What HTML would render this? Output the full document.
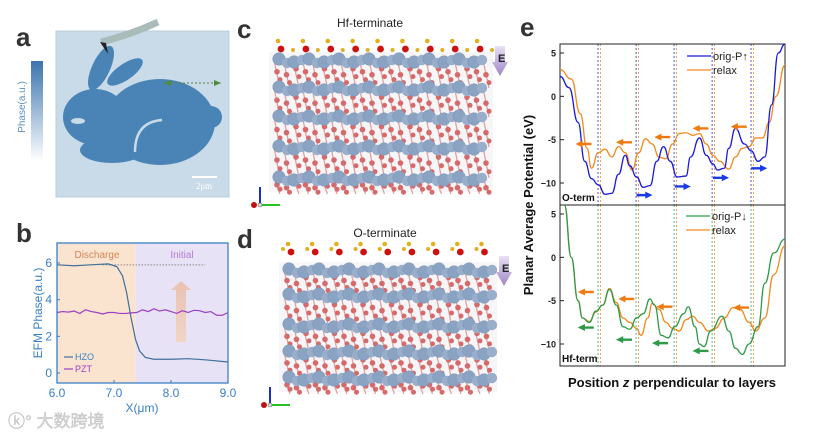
<!DOCTYPE html>
<html><head><meta charset="utf-8"><style>
html,body{margin:0;padding:0;background:#fff;}
svg{display:block;font-family:"Liberation Sans","Noto Sans CJK SC",sans-serif;}
</style></head><body>
<svg id="fig" width="819" height="434" viewBox="0 0 819 434">
<defs>
<linearGradient id="cb" x1="0" y1="0" x2="0" y2="1"><stop offset="0" stop-color="#3b74ad"/><stop offset="1" stop-color="#ffffff"/></linearGradient>
<linearGradient id="arr" x1="0" y1="1" x2="0" y2="0"><stop offset="0" stop-color="#f3d2bd"/><stop offset="1" stop-color="#e9b9a0"/></linearGradient>
<linearGradient id="ev" x1="0" y1="0" x2="0" y2="1"><stop offset="0" stop-color="#e8e0f4"/><stop offset="1" stop-color="#9f86c8"/></linearGradient>
</defs>
<text x="16" y="46" font-size="26" font-weight="bold" fill="#333">a</text>
<text x="16" y="242" font-size="26" font-weight="bold" fill="#333">b</text>
<text x="237" y="38" font-size="26" font-weight="bold" fill="#333">c</text>
<text x="237" y="248" font-size="26" font-weight="bold" fill="#333">d</text>
<text x="520" y="36" font-size="26" font-weight="bold" fill="#333">e</text>

<g>
<rect x="31" y="61" width="12" height="100" fill="url(#cb)"/>
<text transform="translate(25,107) rotate(-90)" text-anchor="middle" font-size="10" fill="#5b8fc0">Phase(a.u.)</text>
<rect x="56" y="31" width="173" height="166" fill="#c9dbe8" stroke="#b8ccdc"/>
<g fill="#4a84b6">
<ellipse cx="101" cy="68" rx="9" ry="24" transform="rotate(25 101 68)"/>
<ellipse cx="125" cy="72" rx="8" ry="21" transform="rotate(55 125 72)"/>
<ellipse cx="95" cy="117" rx="32" ry="28"/>
<ellipse cx="160" cy="122" rx="55" ry="43"/>
<circle cx="211" cy="117" r="11"/>
<ellipse cx="112" cy="150" rx="32" ry="13"/>
</g>
<ellipse cx="78" cy="121" rx="7" ry="3" fill="#c9dbe8"/>
<path d="M135 152 Q135 122 162 120" stroke="#c9dbe8" stroke-width="2.5" fill="none"/>
<path d="M163 83 L223 83" stroke="#4f8a3a" stroke-dasharray="2,2" stroke-width="1"/>
<polygon points="164,83 171,80 171,86" fill="#4f8a3a"/><polygon points="221,83 214,80 214,86" fill="#4f8a3a"/>
<path d="M101 42 Q130 35 158 22" stroke="#a9bcb9" stroke-width="7" fill="none"/>
<polygon points="100,42 106,43 108,54" fill="#222"/>
<line x1="192" y1="177" x2="217" y2="177" stroke="#fff" stroke-width="2"/>
<text x="204" y="189" text-anchor="middle" font-size="9" fill="#fff" font-family="Liberation Serif,serif">2μm</text>
</g>

<g id="pb"></g>

<text x="370" y="27" text-anchor="middle" font-size="12" fill="#222">Hf-terminate</text>
<text x="385" y="237" text-anchor="middle" font-size="12" fill="#222">O-terminate</text>
<g id="pc"></g>
<g id="pd"></g>

<g id="pe"></g>

<text x="8" y="427" font-size="17" fill="#d8d8d8" stroke="#bbb" stroke-width="0.4">ⓚ° 大数跨境</text>
</svg>
<script>
const NS="http://www.w3.org/2000/svg";
function mk(p,t,a){const e=document.createElementNS(NS,t);for(const k in a)e.setAttribute(k,a[k]);p.appendChild(e);return e;}

const bXTicks=[6.0,7.0,8.0,9.0];
const bYTicks=[0,2,4,6];
const hzoX=[6.0,6.3,6.6,6.9,7.05,7.15,7.22,7.3,7.38,7.45,7.55,7.7,8.0,8.3,8.6,9.0];
const hzoY=[5.9,5.85,5.9,5.95,5.8,5.3,4.4,3.0,1.8,1.2,0.85,0.75,0.75,0.78,0.72,0.6];
const pztX=[6.0,6.1,6.2,6.3,6.4,6.5,6.6,6.7,6.8,6.9,7.0,7.1,7.2,7.3,7.4,7.5,7.6,7.7,7.8,7.9,8.0,8.1,8.2,8.3,8.4,8.5,8.6,8.7,8.8,8.9,9.0];
const pztY=[3.3,3.35,3.32,3.38,3.25,3.45,3.35,3.3,3.22,3.3,3.3,3.25,3.25,3.28,3.3,3.45,3.35,3.5,3.38,3.45,3.35,3.25,3.4,3.3,3.42,3.4,3.3,3.35,3.15,3.15,3.3];
const bRefLevel=5.9;
const bSplit=7.38;

(function(){
 const g=document.getElementById('pb');
 const L=57,R=228,T=243,B=383;
 const sx=v=>L+(v-6)/3*(R-L), sy=v=>263+(6-v)/6*110;
 const c="#3a7fc4";
 let r=mk(g,'rect',{x:L,y:T,width:sx(bSplit)-L,height:B-T,fill:'#fbe4cf'});
 
 
 r=mk(g,'rect',{x:sx(bSplit),y:T,width:R-sx(bSplit),height:B-T,fill:'#e7e2f5'});
 
 
 let t=mk(g,'text',{x:97,y:258,'font-size':10,fill:'#d0895a','text-anchor':'middle'});t.textContent='Discharge';
 
 
 t=mk(g,'text',{x:182,y:258,'font-size':10,fill:'#b87ad8','text-anchor':'middle'});t.textContent='Initial';
 
 
 let ar=mk(g,'path',{d:'M171 290 L181 281 L191 290 L186 290 L186 342 L176 342 L176 290 Z',fill:'url(#arr)',opacity:0.8});
 
 
 let dl=mk(g,'line',{x1:sx(6.8),x2:sx(8.6),y1:sy(bRefLevel),y2:sy(bRefLevel),stroke:'#888','stroke-dasharray':'1.5,1.5'});
 
 
 let p=mk(g,'polyline',{points:hzoX.map((x,i)=>sx(x)+','+sy(hzoY[i])).join(' '),fill:'none',stroke:'#3f6f9c','stroke-width':1.2});
 
 
 p=mk(g,'polyline',{points:pztX.map((x,i)=>sx(x)+','+sy(pztY[i])).join(' '),fill:'none',stroke:'#9b3fc6','stroke-width':1.2});
 
 
 let bx=mk(g,'rect',{x:L,y:T,width:R-L,height:B-T,fill:'none',stroke:c,'stroke-width':1.3});
 
 
 bXTicks.forEach(v=>{mk(g,'line',{x1:sx(v),x2:sx(v),y1:B,y2:B-3,stroke:c});
  const tt=mk(g,'text',{x:sx(v),y:B+14,'font-size':12,fill:c,'text-anchor':'middle'});tt.textContent=v.toFixed(1);
  
  });
 bYTicks.forEach(v=>{mk(g,'line',{x1:L,x2:L+3,y1:sy(v),y2:sy(v),stroke:c});
  const tt=mk(g,'text',{x:L-5,y:sy(v)+4,'font-size':12,fill:c,'text-anchor':'end'});tt.textContent=v;
  
  });
 t=mk(g,'text',{x:142,y:412,'font-size':12,fill:c,'text-anchor':'middle'});t.textContent='X(μm)';
 
 
 t=mk(g,'text',{transform:'translate(42,313) rotate(-90)','font-size':12,fill:c,'text-anchor':'middle'});t.textContent='EFM Phase(a.u.)';
 
 
 mk(g,'line',{x1:64,x2:73,y1:357,y2:357,stroke:'#3f6f9c','stroke-width':1.2});
 t=mk(g,'text',{x:75,y:360,'font-size':9,fill:c});t.textContent='HZO';
 
 
 mk(g,'line',{x1:64,x2:73,y1:369,y2:369,stroke:'#9b3fc6','stroke-width':1.2});
 t=mk(g,'text',{x:75,y:372,'font-size':9,fill:'#9b3fc6'});t.textContent='PZT';
 
 
})();

function structure(id,x0,x1,rows,topY,oTop){
 const g=document.getElementById(id);
 mk(g,'rect',{x:x0-5,y:rows[0]-8,width:x1-x0+10,height:rows[rows.length-1]-rows[0]+22,fill:'#f6f6f8'});
 for(let r=0;r<rows.length;r++){
  const y=rows[r];
  const ny=(r<rows.length-1)?rows[r+1]:y+16;
  let j=0;
  for(let x=x0;x<=x1;x+=9.5){
   j++;
   const yy=y+(ny-y)*0.42+((j%3)-1)*3;
   mk(g,'line',{x1:x,y1:y,x2:x+6,y2:ny,stroke:'#e2a0a0','stroke-width':1.3});
   mk(g,'circle',{cx:x+3,cy:yy,r:2.8,fill:'#d66a6a'});
   mk(g,'circle',{cx:x+6,cy:yy+(ny-y)*0.28,r:2.5,fill:'#d66a6a'});
  }
 }
 for(let r=0;r<rows.length;r++){
  const y=rows[r];
  let j=0;
  for(let x=x0+5;x<=x1;x+=15){
   j++;
   mk(g,'circle',{cx:x,cy:y+((j%2)?-1:2),r:6.3,fill:'#8aa3c3',stroke:'#7a94b5','stroke-width':0.5});
   mk(g,'circle',{cx:x+8,cy:y+((j%2)?3:0),r:5.2,fill:'#98aecb'});
  }
 }
 for(let i=0;i<9;i++){
  const x=x0+i*(x1-x0)/8.6+4;
  mk(g,'circle',{cx:x+3,cy:topY+8,r:3.4,fill:'#cc1111'});
  mk(g,'circle',{cx:x,cy:topY,r:2.3,fill:'#e0b020'});
  if(oTop) mk(g,'circle',{cx:x-5,cy:topY+5,r:2,fill:'#e0b020'});
  else mk(g,'circle',{cx:x+15,cy:topY+9,r:2,fill:'#e0b020'});
 }
 const ex=x1+12;
 mk(g,'polygon',{points:`${ex-5},${rows[0]-14} ${ex+5},${rows[0]-14} ${ex+5},${rows[0]+2} ${ex+8},${rows[0]+2} ${ex},${rows[0]+16} ${ex-8},${rows[0]+2} ${ex-5},${rows[0]+2}`,fill:'url(#ev)'});
 const et=mk(g,'text',{x:ex-2,y:rows[0]+2,'font-size':11,'font-weight':'bold',fill:'#222'});et.textContent='E';
 const ay=rows[rows.length-1]+27, ax=x0-14;
 mk(g,'line',{x1:ax,y1:ay,x2:ax,y2:ay-18,stroke:'#1a2ed0','stroke-width':2});
 mk(g,'line',{x1:ax,y1:ay,x2:ax+20,y2:ay,stroke:'#22c322','stroke-width':2});
 mk(g,'circle',{cx:ax-6,cy:ay,r:3,fill:'#c01010'});
 mk(g,'circle',{cx:ax,cy:ay,r:2,fill:'#ddd',stroke:'#555','stroke-width':0.5});
}
structure('pc',274,488,[60,88,117,147,178],41,false);
structure('pd',284,492,[270,295,325,352,378],244,true);

const eYTicks=[5,0,-5,-10];
const topBlueX=[0,4,8,11,14,17,20,23,26,29,31,34,37,40,43,46,49,52,56,58,62,65,68,70,73,75,78,82,85,88,91,94,97,100];
const topBlueY=[2.3,1,-3,-7.5,-9.5,-10.2,-11.3,-11.2,-9,-6.8,-8,-9.3,-10.5,-10.3,-7.5,-5.8,-7.5,-9.3,-9.2,-7,-4.8,-6.8,-7.8,-8.5,-8.3,-6,-3.7,-5.5,-6.3,-7.5,-7,-1,5,6.5];
const topRelaxX=[0,5,9,12,14,17,20,23,26,29,32,35,38,41,44,47,50,53,56,59,62,65,68,71,75,78,81,84,87,90,93,96,100];
const topRelaxY=[3.1,2,-2,-6,-8.3,-6.5,-6.1,-7,-5.8,-6.5,-8.5,-6.5,-4.9,-5.5,-7,-7.2,-5.5,-4.3,-4.2,-4.5,-4.3,-5.5,-6.8,-7.5,-8.4,-7,-6,-5.8,-4.8,-4.8,-3,0,3.6];
const botGreenX=[2,5,8,10,13,16,19,22,25,28,31,34,37,40,42,45,48,51,55,57,60,62,64,67,72,75,78,81,84,88,91,95,100];
const botGreenY=[6,0,-5,-7,-7.5,-6.2,-5.5,-3.7,-5.5,-8,-8.3,-7,-6.5,-4.8,-5.5,-9,-9.3,-8,-6.5,-5.7,-8,-10,-10.3,-8.5,-6.8,-8.5,-10.5,-11.2,-10,-8,-3,0.5,2.1];
const botRelaxX=[2,5,8,10,13,16,19,22,25,28,31,34,36,39,41,44,47,50,53,56,59,62,66,69,73,77,80,84,87,91,95,100];
const botRelaxY=[6,0,-5,-7,-7.4,-6.3,-5.5,-3.6,-5.2,-7,-7.5,-8.2,-9,-7,-5.3,-6,-7.5,-8.2,-8.5,-7.2,-6.8,-7.5,-8.5,-8.2,-7,-5.8,-6,-7.5,-8.5,-7,-2,1.3];
const layerPos=[16.9,33.8,50.7,67.6,84.9];
const topArrowsOrange=[[14,-5.5],[32,-5.3],[49,-4.7],[66,-3.7],[83,-3.5]];
const topArrowsBlue=[[34,-11.4],[51,-10.4],[68,-9.4],[85,-8.3]];
const botArrowsOrange=[[15,-4],[33,-4.8],[50,-5.7],[84,-5.8]];
const botArrowsGreen=[[15,-8.1],[32,-9.5],[48,-9.9],[66,-10.8]];

(function(){
 const g=document.getElementById('pe');
 const L=560,R=785;
 const sx=v=>L+v/100*(R-L);
 const panels=[{T:44,B:205,y5:53},{T:205,B:366,y5:214}];
 const k=130/15;
 function curve(p,xs,ys,col,name){
  const sy=v=>p.y5+(5-v)*k;
  let d='';
  xs.forEach((x,i)=>{const X=sx(x),Y=Math.max(p.T,Math.min(p.B,sy(ys[i])));
   if(i==0)d='M'+X+' '+Y;else{const px=sx(xs[i-1]),mx=(px+X)/2;const py=Math.max(p.T,Math.min(p.B,sy(ys[i-1])));d+=` C${mx} ${py} ${mx} ${Y} ${X} ${Y}`;}});
  const e=mk(g,'path',{d,fill:'none',stroke:col,'stroke-width':1.3});
  
  
 }
 function arrows(p,list,col,dir,name){
  const sy=v=>p.y5+(5-v)*k;
  list.forEach(a=>{const x=sx(a[0]),y=sy(a[1]);const w=16*dir;
   const e=mk(g,'polygon',{points:`${x},${y-1.2} ${x+w*0.55},${y-1.2} ${x+w*0.55},${y-3.5} ${x+w},${y} ${x+w*0.55},${y+3.5} ${x+w*0.55},${y+1.2} ${x},${y+1.2}`,fill:col});
   
   });
 }
 panels.forEach((p,pi)=>{
  const sy=v=>p.y5+(5-v)*k;
  layerPos.forEach(z=>{
   const c1=pi==0?'#2a2ad0':'#3aa070';
   mk(g,'line',{x1:sx(z),x2:sx(z),y1:p.T,y2:p.B,stroke:c1,'stroke-dasharray':'2,2','stroke-width':0.8});
   mk(g,'line',{x1:sx(z)+2.5,x2:sx(z)+2.5,y1:p.T,y2:p.B,stroke:'#f08a20','stroke-dasharray':'2,2','stroke-width':0.8});
  });
  eYTicks.forEach(v=>{mk(g,'line',{x1:L,x2:L+4,y1:sy(v),y2:sy(v),stroke:'#222'});
   const t=mk(g,'text',{x:L-4,y:sy(v)+3.5,'font-size':9,'font-weight':'bold',fill:'#222','text-anchor':'end'});t.textContent=v===-10?'−10':v;
   
   });
  const f=mk(g,'rect',{x:L,y:p.T,width:R-L,height:p.B-p.T,fill:'none',stroke:'#222','stroke-width':1});
  
  
 });
 curve(panels[0],topRelaxX,topRelaxY,'#f08a20','top-relax-line');
 curve(panels[0],topBlueX,topBlueY,'#1a1ad8','orig-p-up-line');
 curve(panels[1],botRelaxX,botRelaxY,'#f08a20','bottom-relax-line');
 curve(panels[1],botGreenX,botGreenY,'#2e9a48','orig-p-down-line');
 arrows(panels[0],topArrowsOrange,'#f07a10',-1,'relax-arrow');
 arrows(panels[0],topArrowsBlue,'#1a3ae8',1,'orig-arrow');
 arrows(panels[1],botArrowsOrange,'#f07a10',-1,'relax-arrow');
 arrows(panels[1],botArrowsGreen,'#2e9a48',-1,'orig-arrow');
 function leg(x,y,col,txt,name){mk(g,'line',{x1:x,x2:x+24,y1:y,y2:y,stroke:col,'stroke-width':1.3});
  const t=mk(g,'text',{x:x+26,y:y+4,'font-size':11,fill:'#222'});t.textContent=txt;
  
  }
 leg(687,56,'#1a1ad8','orig-P↑','legend-orig-p-up');
 leg(687,70,'#f08a20','relax','legend-relax-top');
 leg(686,216,'#2e9a48','orig-P↓','legend-orig-p-down');
 leg(686,230,'#f08a20','relax','legend-relax-bottom');
 let t=mk(g,'text',{x:562,y:201,'font-size':10,'font-weight':'bold',fill:'#111'});t.textContent='O-term';
 
 
 t=mk(g,'text',{x:562,y:362,'font-size':10,'font-weight':'bold',fill:'#111'});t.textContent='Hf-term';
 
 
 t=mk(g,'text',{transform:'translate(533,205) rotate(-90)','font-size':13,'font-weight':'bold',fill:'#111','text-anchor':'middle'});t.textContent='Planar Average Potential (eV)';
 
 
 t=mk(g,'text',{x:672,y:387,'font-size':13,'font-weight':'bold',fill:'#111','text-anchor':'middle'});t.innerHTML='Position <tspan font-style="italic">z</tspan> perpendicular to layers';
 
 
})();
</script>
</body></html>
